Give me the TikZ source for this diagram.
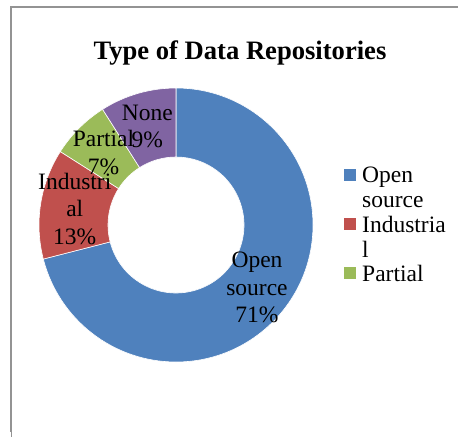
\documentclass[tikz,border=0pt]{standalone}
\usepackage{fontspec}
\setmainfont{Liberation Serif}
\definecolor{opencol}{HTML}{4F81BD}
\definecolor{indcol}{HTML}{C0504D}
\definecolor{partcol}{HTML}{9BBB59}
\definecolor{nonecol}{HTML}{8064A2}
\begin{document}
\begin{tikzpicture}[x=1pt,y=1pt,
  lbl/.style={font=\fontsize{23.5}{27.5}\selectfont, align=center, inner sep=0pt},
  legtext/.style={font=\fontsize{23.5}{25}\selectfont, align=left, inner sep=0pt},
  key/.style={minimum size=12pt, inner sep=0pt}]
\useasboundingbox (0,0) rectangle (458,437);
% данные
\def\R{137pt}
\def\r{68pt}
\def\slices{71/opencol,13/indcol,7/partcol,9/nonecol}
\def\labels{{Open\\source\\71\%},{Industri\\al\\13\%},{Partial\\7\%},{None\\9\%}}
%рамка
\draw[gray!85, line width=2pt] (458,430) -- (11,430) -- (11,5);
\draw[gray!85, line width=0.8pt] (11,5) -- (11,0);
%заголовок
\node[font=\bfseries\fontsize{26.6}{30}\selectfont, anchor=base] (title) at (240,377) {Type of Data Repositories};
%кольцо
\coordinate (c) at (176,212);
\def\start{90}
\foreach \p/\col [count=\i] in \slices{
  \pgfmathsetmacro\stop{\start-3.6*\p}
  \fill[\col, draw=white, line width=0.6pt] ([shift={(\start:\R)}]c) arc (\start:\stop:\R)
    -- ([shift={(\stop:\r)}]c) arc (\stop:\start:\r) -- cycle;
  \pgfmathsetmacro\mid{(\start+\stop)/2}
  \coordinate (m\i) at ([shift={(\mid:102.5pt)}]c);
  \global\let\start\stop
}
%подписи
\foreach \txt [count=\i] in \labels
  \node[lbl] (lbl\i) at (m\i) {\txt};
%легенда
\foreach \col/\txt [count=\i] in {opencol/{Open\\source},indcol/{Industria\\l},partcol/{Partial}}{
  \node[key, fill=\col] (key\i) at (350,262-49*\i+49) {};
  \node[legtext, anchor=north west] (leg\i) at (362,270-49*\i+49) {\txt};
}
\end{tikzpicture}
\end{document}
